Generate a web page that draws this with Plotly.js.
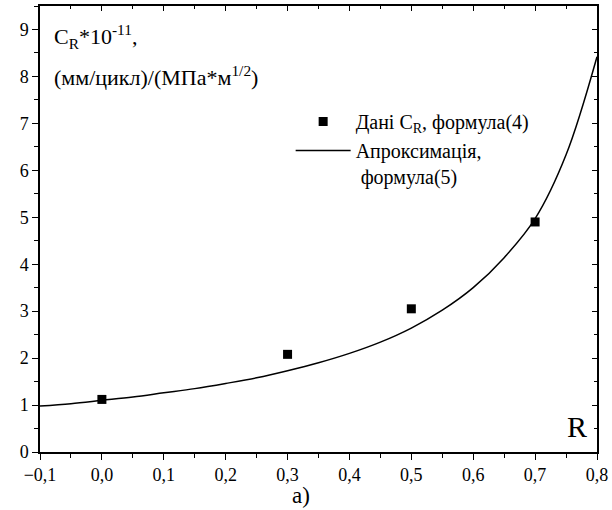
<!DOCTYPE html>
<html><head><meta charset="utf-8">
<script src="https://cdn.plot.ly/plotly-3.0.1.min.js"></script>
<style>
html,body{margin:0;padding:0;background:#fff}
#chart{width:612px;height:510px}
#chart text, #chart tspan{font-family:'Liberation Serif','Times New Roman',serif !important}
</style>
</head><body><div id="chart"></div>
<script>
// Data
const dataR = [0.0, 0.3, 0.5, 0.7];
const dataC = [1.12, 2.08, 3.05, 4.9];
const fitR = [-0.1, -0.05, 0.0, 0.05, 0.1, 0.15, 0.2, 0.25, 0.3, 0.35, 0.4, 0.45, 0.5, 0.55, 0.6, 0.65, 0.7, 0.75, 0.8];
const fitC = [0.98, 1.03, 1.10, 1.17, 1.26, 1.35, 1.46, 1.58, 1.73, 1.90, 2.10, 2.34, 2.64, 3.02, 3.50, 4.14, 4.97, 6.33, 8.42];
const xTicks = [-0.1, 0.0, 0.1, 0.2, 0.3, 0.4, 0.5, 0.6, 0.7, 0.8];
const yTicks = [0, 1, 2, 3, 4, 5, 6, 7, 8, 9];
const legendData = "Дані C<sub>R</sub>, формула(4)";
const legendFit = "Апроксимація,<br> формула(5)";

const SERIF = "Liberation Serif";
const traces = [
  {x: dataR, y: dataC, type: "scatter", mode: "markers", name: legendData,
   marker: {symbol: "square", size: 9, color: "#000"}},
  {x: fitR, y: fitC, type: "scatter", mode: "lines", name: legendFit,
   line: {color: "#000", width: 1.5, shape: "spline", smoothing: 1}},
  {x: fitR, y: fitC, xaxis: "x2", yaxis: "y2", type: "scatter", mode: "lines",
   showlegend: false, hoverinfo: "skip", line: {color: "rgba(0,0,0,0)", width: 0}}
];
function axis(extra) {
  return Object.assign({showgrid: false, zeroline: false, showline: true, linecolor: "#000", linewidth: 1.5,
    tickcolor: "#000", tickwidth: 1.3, tickfont: {family: SERIF, size: 18, color: "#000"}}, extra);
}
const layout = {
  width: 612, height: 510, paper_bgcolor: "#fff", plot_bgcolor: "#fff",
  margin: {l: 40, r: 15, t: 6, b: 58},
  separators: ",.",
  font: {family: SERIF, color: "#000"},
  showlegend: true,
  xaxis: axis({range: [-0.1, 0.8], tickmode: "array", tickvals: xTicks,
    tickformat: ".1f", ticks: "outside", ticklen: 6,
    minor: {dtick: 0.05, ticks: "outside", ticklen: 4, tickcolor: "#000", tickwidth: 1.3, showgrid: false}}),
  yaxis: axis({range: [0, 9.5], tickmode: "array", tickvals: yTicks,
    ticks: "outside", ticklen: 6,
    minor: {dtick: 0.5, ticks: "outside", ticklen: 4, tickcolor: "#000", tickwidth: 1.3, showgrid: false}}),
  xaxis2: axis({overlaying: "x", side: "top", matches: "x", range: [-0.1, 0.8],
    tickmode: "array", tickvals: xTicks, showticklabels: false, ticks: "inside", ticklen: 5,
    minor: {dtick: 0.05, ticks: "inside", ticklen: 3, tickcolor: "#000", tickwidth: 1, showgrid: false}}),
  yaxis2: axis({overlaying: "y", side: "right", anchor: "x2", range: [0, 9.5],
    tickmode: "array", tickvals: yTicks, showticklabels: false, ticks: "inside", ticklen: 5,
    minor: {dtick: 0.5, ticks: "inside", ticklen: 3, tickcolor: "#000", tickwidth: 1, showgrid: false}}),
  legend: {x: 0.45, y: 0.785, xanchor: "left", yanchor: "top", bgcolor: "rgba(0,0,0,0)",
    font: {family: SERIF, size: 20, color: "#000"}, valign: "top", itemwidth: 55, tracegroupgap: 10},
  annotations: [
    {xref: "paper", yref: "paper", x: 0.022, y: 0.97, xanchor: "left", yanchor: "top", showarrow: false, align: "left",
     text: "C<sub>R</sub>*10<sup>-11</sup>,", font: {family: SERIF, size: 22, color: "#000"}},
    {xref: "paper", yref: "paper", x: 0.022, y: 0.88, xanchor: "left", yanchor: "top", showarrow: false, align: "left",
     text: "(мм/цикл)/(МПа*м<sup>1/2</sup>)", font: {family: SERIF, size: 22, color: "#000"}},
    {xref: "paper", yref: "paper", x: 0.985, y: 0.015, xanchor: "right", yanchor: "bottom", showarrow: false,
     text: "R", font: {family: SERIF, size: 30, color: "#000"}},
    {xref: "paper", yref: "paper", x: 0.468, y: -0.097, xanchor: "center", yanchor: "middle", showarrow: false,
     text: "а)", font: {family: SERIF, size: 23, color: "#000"}}
  ]
};
Plotly.newPlot("chart", traces, layout, {displayModeBar: false});
</script>
</body></html>
